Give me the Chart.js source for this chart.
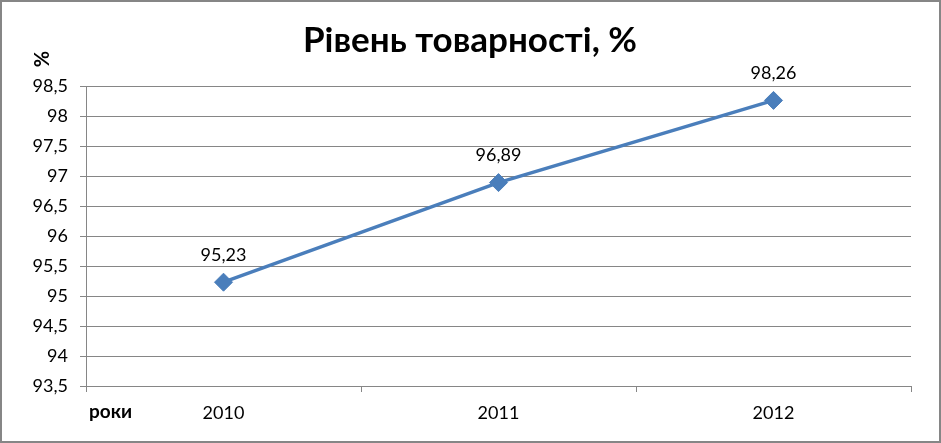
<!DOCTYPE html>
<html>
<head>
<meta charset="utf-8">
<script src="https://cdn.jsdelivr.net/npm/chart.js@4/dist/chart.umd.min.js"></script>
<style>
	html, body { margin: 0; padding: 0; background: #fff; }
	#wrap { width: 941px; height: 443px; position: relative; }
</style>
</head>
<body>
<div id="wrap"><canvas id="chart"></canvas></div>
<script>
const years = ['2010', '2011', '2012'];
const levels = [95.23, 96.89, 98.26];
const chartTitle = 'Рівень товарності, %';
const yTitle = '%';
const xTitle = 'роки';

const fontFamily = 'Lato, "Noto Sans", sans-serif';
const grey = '#868686';
const lineBlue = '#4a7ebb';

function fmt(v) {
	return String(v).replace('.', ',');
}

// frame, title, axis captions and value labels
const decorPlugin = {
	id: 'decor',
	beforeDraw(chart) {
		let ctx = chart.ctx;
		ctx.save();
		ctx.fillStyle = '#fff';
		ctx.fillRect(0, 0, chart.width, chart.height);
		ctx.restore();
	},
	afterDraw(chart) {
		let ctx = chart.ctx;
		ctx.save();
		ctx.strokeStyle = grey;
		ctx.lineWidth = 2;
		ctx.strokeRect(1, 1, chart.width - 2, chart.height - 2);

		ctx.fillStyle = '#000';
		ctx.textAlign = 'center';
		ctx.textBaseline = 'middle';
		ctx.font = 'bold 35px ' + fontFamily;
		ctx.fillText(chartTitle, 470, 41);

		ctx.font = 'bold 19px ' + fontFamily;
		ctx.textAlign = 'left';
		ctx.fillText(xTitle, 89, 412);

		ctx.save();
		ctx.translate(43, 59);
		ctx.rotate(-Math.PI / 2);
		ctx.textAlign = 'center';
		ctx.font = 'bold 20px ' + fontFamily;
		ctx.fillText(yTitle, 0, 0);
		ctx.restore();

		ctx.font = '18px ' + fontFamily;
		ctx.textAlign = 'center';
		let meta = chart.getDatasetMeta(0);
		meta.data.forEach((pt, i) => {
			ctx.fillText(fmt(levels[i]), pt.x, pt.y - 27);
		});
		ctx.restore();
	}
};

new Chart(document.getElementById('chart'), {
	type: 'line',
	data: {
		labels: years,
		datasets: [{
			data: levels,
			borderColor: lineBlue,
			backgroundColor: lineBlue,
			borderWidth: 3.5,
			pointStyle: 'rectRot',
			pointRadius: 9,
			pointBorderWidth: 1,
			pointBorderColor: lineBlue,
			pointBackgroundColor: lineBlue,
			fill: false,
			tension: 0,
		}],
	},
	options: {
		responsive: true,
		maintainAspectRatio: false,
		animation: false,
		devicePixelRatio: 1,
		layout: {
			padding: {left: 0, top: 86, right: 30, bottom: 0},
		},
		plugins: {
			legend: {display: false},
			title: {display: false},
			tooltip: {enabled: false},
		},
		scales: {
			x: {
				type: 'category',
				offset: true,
				afterFit(axis) { axis.height = 57; },
				grid: {
					offset: true,
					drawOnChartArea: false,
					drawTicks: true,
					tickLength: 6,
					color: grey,
				},
				border: {color: grey, width: 1},
				ticks: {
					color: '#000',
					padding: 10,
					font: {family: fontFamily, size: 18},
				},
			},
			y: {
				min: 93.5,
				max: 98.5,
				afterFit(axis) { axis.width = 86; },
				grid: {
					color: grey,
					tickLength: 6,
				},
				border: {color: grey, width: 1},
				ticks: {
					stepSize: 0.5,
					color: '#000',
					padding: 12,
					font: {family: fontFamily, size: 18},
					callback: (v) => fmt(v),
				},
			},
		},
	},
	plugins: [decorPlugin],
});
</script>
</body>
</html>
